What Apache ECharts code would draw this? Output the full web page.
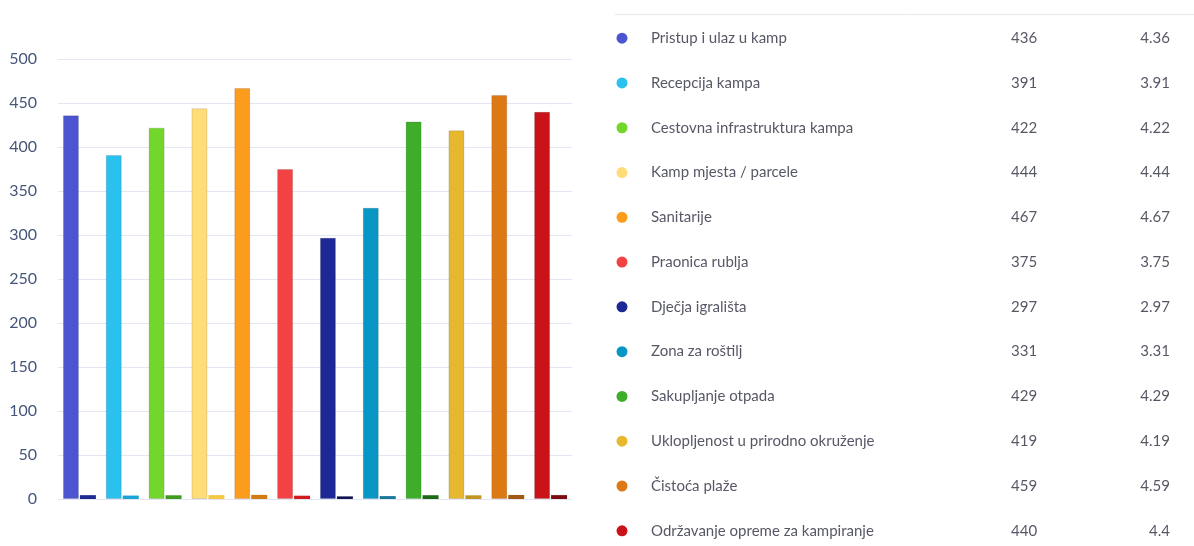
<!DOCTYPE html>
<html lang="hr">
<head>
    <meta charset="UTF-8">
    <title>Ocjene kampa</title>
    <style>
        html, body { margin: 0; padding: 0; background: #fff; }
        #main { width: 1194px; height: 546px; }
    </style>
</head>
<body>
    <div id="main"></div>
    <script src="https://cdn.jsdelivr.net/npm/echarts@6/dist/echarts.min.js"></script>
    <script>
        // podaci
        var categories = ['Pristup i ulaz u kamp', 'Recepcija kampa', 'Cestovna infrastruktura kampa',
            'Kamp mjesta / parcele', 'Sanitarije', 'Praonica rublja', 'Dječja igrališta', 'Zona za roštilj',
            'Sakupljanje otpada', 'Uklopljenost u prirodno okruženje', 'Čistoća plaže', 'Održavanje opreme za kampiranje'];
        var counts = [436, 391, 422, 444, 467, 375, 297, 331, 429, 419, 459, 440];
        var averages = ['4.36', '3.91', '4.22', '4.44', '4.67', '3.75', '2.97', '3.31', '4.29', '4.19', '4.59', '4.4'];
        var yTicks = [0, 50, 100, 150, 200, 250, 300, 350, 400, 450, 500];

        var mainColors = ['#4b55cf', '#2bc1ee', '#72d72a', '#fedc78', '#fb9c1d', '#f24244',
            '#1e2796', '#0897c4', '#3dad2a', '#e7b82e', '#dd7914', '#c91318'];
        var darkColors = ['#1f2b8e', '#1aa3d5', '#3f9a20', '#f5c842', '#d07c10', '#d11a1f',
            '#10154f', '#1a7899', '#1a6a15', '#c09520', '#a25a12', '#7d0a0e'];

        var myChart = echarts.init(document.getElementById('main'));

        // stupci
        var countData = counts.map(function (v, i) {
            return { value: v, itemStyle: { color: mainColors[i], borderColor: 'rgba(0,0,0,0.12)', borderWidth: 1 } };
        });
        var avgData = averages.map(function (v, i) {
            return { value: parseFloat(v), itemStyle: { color: darkColors[i] } };
        });

        // tablica desno: red i je na y = i
        var rows = categories.map(function (c, i) { return i; });
        var txt = { color: '#2c2d3e', fontSize: 15, fontFamily: 'Lato' };

        var option = {
            animation: false,
            grid: [
                { left: 58, right: 622, top: 59, bottom: 47 },
                { left: 615, right: 0, top: 14, bottom: 0 }
            ],
            xAxis: [
                {
                    gridIndex: 0, type: 'category', data: categories,
                    axisLine: { lineStyle: { color: '#e3e6f2' } },
                    axisTick: { show: false }, axisLabel: { show: false }
                },
                {
                    gridIndex: 1, type: 'value', min: 0, max: 579, position: 'top',
                    axisLine: { show: true, onZero: false, lineStyle: { color: '#e6e8f0' } },
                    axisTick: { show: false }, axisLabel: { show: false }, splitLine: { show: false }
                }
            ],
            yAxis: [
                {
                    gridIndex: 0, type: 'value', min: yTicks[0], max: yTicks[yTicks.length - 1], interval: 50,
                    axisLine: { show: false }, axisTick: { show: false },
                    axisLabel: { color: '#47577a', fontSize: 16, fontFamily: 'Lato', margin: 21 },
                    splitLine: { lineStyle: { color: '#e4e7f3' } }
                },
                {
                    gridIndex: 1, type: 'value', inverse: true, min: -0.54, max: 11.34,
                    show: false
                }
            ],
            series: [
                {
                    type: 'bar', name: 'Broj', data: countData,
                    barWidth: 16, barGap: '6%', barCategoryGap: '23%'
                },
                {
                    type: 'bar', name: 'Prosjek', data: avgData,
                    barWidth: 16, barGap: '6%'
                },
                {
                    type: 'scatter', xAxisIndex: 1, yAxisIndex: 1, symbolSize: 11,
                    data: rows.map(function (r) { return { value: [7, r], itemStyle: { color: mainColors[r], opacity: 1 } }; })
                },
                {
                    type: 'scatter', xAxisIndex: 1, yAxisIndex: 1, symbolSize: 0,
                    data: rows.map(function (r) { return [36, r]; }),
                    label: Object.assign({ show: true, position: 'right', distance: 0,
                        formatter: function (p) { return categories[p.dataIndex]; } }, txt)
                },
                {
                    type: 'scatter', xAxisIndex: 1, yAxisIndex: 1, symbolSize: 0,
                    data: rows.map(function (r) { return [396, r]; }),
                    label: Object.assign({ show: true, position: 'right', distance: 0,
                        formatter: function (p) { return String(counts[p.dataIndex]); } }, txt)
                },
                {
                    type: 'scatter', xAxisIndex: 1, yAxisIndex: 1, symbolSize: 0,
                    data: rows.map(function (r) { return [555, r]; }),
                    label: Object.assign({ show: true, position: 'left', distance: 0,
                        formatter: function (p) { return averages[p.dataIndex]; } }, txt)
                }
            ]
        };
        myChart.setOption(option);
    </script>
</body>
</html>
